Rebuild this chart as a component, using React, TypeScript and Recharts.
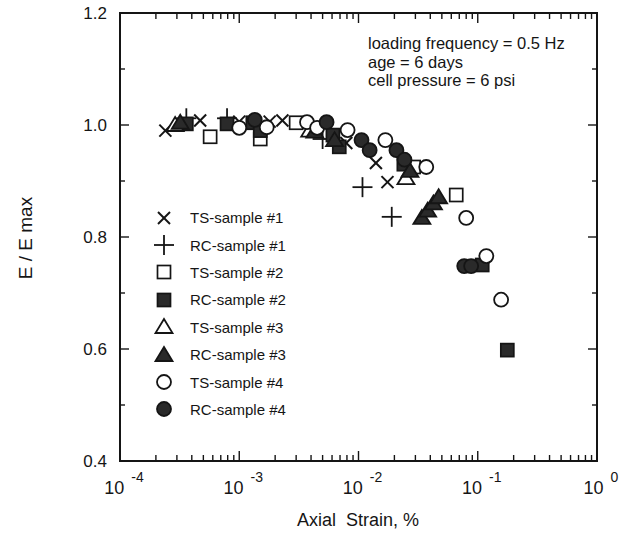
import React from 'react';
import { ScatterChart, Scatter, XAxis, YAxis, Legend, ReferenceArea } from 'recharts';

// strain in %, modulus ratio E / E max
const tsSample1 = [[2.4e-4, 0.99], [4.7e-4, 1.008], [1.0e-3, 1.006], [1.8e-3, 1.006], [2.3e-3, 1.008], [7.9e-3, 0.968], [1.4e-2, 0.932], [1.75e-2, 0.898]];
const rcSample1 = [[3.6e-4, 1.012], [7.9e-4, 1.012], [5.0e-3, 0.975], [1.08e-2, 0.889], [1.9e-2, 0.836]];
const tsSample2 = [[5.7e-4, 0.979], [1.5e-3, 0.975], [3.0e-3, 1.004], [2.9e-2, 0.925], [6.6e-2, 0.875]];
const rcSample2 = [[3.6e-4, 1.002], [7.9e-4, 1.002], [1.3e-3, 1.004], [1.5e-3, 0.99], [6.1e-3, 0.982], [6.9e-3, 0.961], [2.4e-2, 0.93], [0.109, 0.75], [0.177, 0.598]];
const tsSample3 = [[2.9e-4, 1.0], [3.9e-3, 0.99], [2.5e-2, 0.905]];
const rcSample3 = [[3.2e-4, 1.004], [4.3e-3, 0.988], [6.3e-3, 0.973], [2.7e-2, 0.918], [3.4e-2, 0.834], [3.8e-2, 0.847], [4.25e-2, 0.86], [4.7e-2, 0.871]];
const tsSample4 = [[1.0e-3, 0.995], [1.7e-3, 0.996], [3.7e-3, 1.005], [4.5e-3, 0.995], [8.1e-3, 0.991], [1.68e-2, 0.973], [3.7e-2, 0.925], [8.0e-2, 0.834], [0.118, 0.766], [0.157, 0.688]];
const rcSample4 = [[1.35e-3, 1.009], [5.4e-3, 1.005], [1.06e-2, 0.973], [1.24e-2, 0.955], [2.08e-2, 0.955], [2.43e-2, 0.938], [7.7e-2, 0.748], [8.8e-2, 0.748]];

const decades = [-4, -3, -2, -1];
const steps = [1, 2, 3, 4, 5, 6, 7, 8, 9];
const majorX = [1e-4, 1e-3, 1e-2, 1e-1, 1];
const xExponents = ['-4', '-3', '-2', '-1', '0'];
const xTicks = [...decades.flatMap((d) => steps.map((s) => s * Math.pow(10, d))), 1];

const yTicks = [0.4, 0.5, 0.6, 0.7, 0.8, 0.9, 1.0, 1.1, 1.2];
const yLabels = ['0.4', '', '0.6', '', '0.8', '', '1.0', '', '1.2'];

const annotation = ['loading frequency = 0.5 Hz', 'age = 6 days', 'cell pressure = 6 psi'];

const FONT = '"Liberation Sans", Arial, Helvetica, sans-serif';
const INK = '#151515';
const FILL = '#2a2a2a';

// layout
const W = 635;
const H = 538;
const MARGIN = { top: 13, right: 38, bottom: 0, left: 0 };
const X_AXIS_H = 77;
const Y_AXIS_W = 120;
const PLOT_W = W - MARGIN.left - MARGIN.right - Y_AXIS_W;
const PLOT_H = H - MARGIN.top - MARGIN.bottom - X_AXIS_H;

type Kind = 'x' | 'plus' | 'square' | 'triangle' | 'circle';

const series: { name: string; data: number[][]; kind: Kind; filled: boolean }[] = [
  { name: 'TS-sample #1', data: tsSample1, kind: 'x', filled: false },
  { name: 'RC-sample #1', data: rcSample1, kind: 'plus', filled: false },
  { name: 'TS-sample #2', data: tsSample2, kind: 'square', filled: false },
  { name: 'RC-sample #2', data: rcSample2, kind: 'square', filled: true },
  { name: 'TS-sample #3', data: tsSample3, kind: 'triangle', filled: false },
  { name: 'RC-sample #3', data: rcSample3, kind: 'triangle', filled: true },
  { name: 'TS-sample #4', data: tsSample4, kind: 'circle', filled: false },
  { name: 'RC-sample #4', data: rcSample4, kind: 'circle', filled: true },
];

function markerPath(kind: Kind, filled: boolean, cx: number, cy: number) {
  const fill = filled ? FILL : '#fff';
  if (kind === 'x') {
    return (
      <g stroke={INK} strokeWidth={2}>
        <line x1={cx - 6} y1={cy - 6} x2={cx + 6} y2={cy + 6} />
        <line x1={cx - 6} y1={cy + 6} x2={cx + 6} y2={cy - 6} />
      </g>
    );
  }
  if (kind === 'plus') {
    return (
      <g stroke={INK} strokeWidth={1.8}>
        <line x1={cx - 10} y1={cy} x2={cx + 10} y2={cy} />
        <line x1={cx} y1={cy - 10} x2={cx} y2={cy + 10} />
      </g>
    );
  }
  if (kind === 'square') {
    return <rect x={cx - 6.5} y={cy - 6.5} width={13} height={13} fill={fill} stroke={INK} strokeWidth={1.7} />;
  }
  if (kind === 'triangle') {
    return (
      <polygon
        points={`${cx},${cy - 8} ${cx - 8.5},${cy + 6} ${cx + 8.5},${cy + 6}`}
        fill={fill}
        stroke={INK}
        strokeWidth={1.8}
      />
    );
  }
  return <circle cx={cx} cy={cy} r={7} fill={fill} stroke={INK} strokeWidth={1.8} />;
}

const majorIndex = (v: number) => majorX.findIndex((m) => Math.abs(v / m - 1) < 1e-9);

// bottom ticks point up into the plot; the same ticks are mirrored on the top edge
function BottomTick(props: any) {
  const { x, y, payload } = props;
  const idx = majorIndex(payload.value);
  const len = idx >= 0 ? 10 : 6;
  const top = y - PLOT_H;
  return (
    <g>
      <line x1={x} x2={x} y1={y} y2={y - len} stroke={INK} strokeWidth={1.4} />
      <line x1={x} x2={x} y1={top} y2={top + len} stroke={INK} strokeWidth={1.4} />
      {idx >= 0 && (
        <text x={x + 4} y={y + 33} textAnchor="middle" fontFamily={FONT} fontSize={18} fill={INK}>
          10
          <tspan dx={7} dy={-12} fontSize={14}>{xExponents[idx]}</tspan>
        </text>
      )}
    </g>
  );
}

function LeftTick(props: any) {
  const { x, y, index } = props;
  const label = yLabels[index];
  const len = label ? 9 : 5;
  const right = x + PLOT_W;
  return (
    <g>
      <line x1={x} x2={x + len} y1={y} y2={y} stroke={INK} strokeWidth={1.4} />
      <line x1={right} x2={right - len} y1={y} y2={y} stroke={INK} strokeWidth={1.4} />
      {label && (
        <text x={x - 13} y={y + 6} textAnchor="end" fontFamily={FONT} fontSize={17} fill={INK}>
          {label}
        </text>
      )}
    </g>
  );
}

function LegendBox() {
  return (
    <div style={{ fontFamily: FONT, fontSize: 15, color: INK }}>
      {series.map((s) => (
        <div key={s.name} style={{ display: 'flex', alignItems: 'center', height: 27.4 }}>
          <svg width={26} height={24} style={{ overflow: 'visible' }}>
            {markerPath(s.kind, s.filled, 13, 12)}
          </svg>
          <span style={{ marginLeft: 13 }}>{s.name}</span>
        </div>
      ))}
    </div>
  );
}

export default function App() {
  return (
    <div style={{ position: 'relative', width: W, height: H, background: '#fff', fontFamily: FONT }}>
      <style>{'body{margin:0}'}</style>
      <ScatterChart width={W} height={H} margin={MARGIN}>
        <XAxis
          dataKey="x"
          type="number"
          scale="log"
          domain={[1e-4, 1]}
          allowDataOverflow
          ticks={xTicks}
          interval={0}
          height={X_AXIS_H}
          tickSize={0}
          tickMargin={0}
          tickLine={false}
          axisLine={false}
          tick={<BottomTick />}
        />
        <YAxis
          dataKey="y"
          type="number"
          domain={[0.4, 1.2]}
          allowDataOverflow
          ticks={yTicks}
          interval={0}
          width={Y_AXIS_W}
          tickSize={0}
          tickMargin={0}
          tickLine={false}
          axisLine={false}
          tick={<LeftTick />}
        />
        <ReferenceArea x1={1e-4} x2={1} y1={0.4} y2={1.2} fill="none" stroke={INK} strokeWidth={2} ifOverflow="visible" />
        {series.map((s) => (
          <Scatter
            key={s.name}
            name={s.name}
            data={s.data.map(([x, y]) => ({ x, y }))}
            isAnimationActive={false}
            shape={(p: any) => markerPath(s.kind, s.filled, p.cx, p.cy)}
          />
        ))}
        <Legend
          layout="vertical"
          align="center"
          verticalAlign="middle"
          content={() => <LegendBox />}
          wrapperStyle={{ left: 151, top: 204, width: 200 }}
        />
      </ScatterChart>
      <div style={{ position: 'absolute', left: 368, top: 34, fontSize: 16.5, lineHeight: '18.5px', color: INK }}>
        {annotation.map((t) => (
          <div key={t}>{t}</div>
        ))}
      </div>
      <div
        style={{
          position: 'absolute',
          left: 26,
          top: 238,
          transform: 'translate(-50%, -50%) rotate(-90deg)',
          fontSize: 19,
          color: INK,
          whiteSpace: 'nowrap',
        }}
      >
        E / E max
      </div>
      <div
        style={{
          position: 'absolute',
          left: 358,
          top: 520,
          transform: 'translate(-50%, -50%)',
          fontSize: 18,
          color: INK,
          whiteSpace: 'pre',
        }}
      >
        {'Axial  Strain, %'}
      </div>
    </div>
  );
}
